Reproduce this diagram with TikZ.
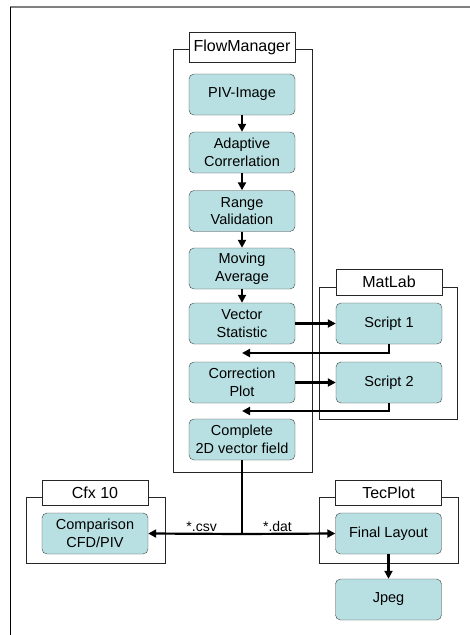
\documentclass[tikz,border=0pt]{standalone}
\usepackage{fontspec}
\setmainfont{Liberation Sans}
\usetikzlibrary{arrows.meta}
\definecolor{cellfill}{RGB}{184,224,226}
\begin{document}
\begin{tikzpicture}[x=1pt, y=-1pt,
    stepbox/.style={draw=black!75, fill=cellfill, rounded corners=5pt, minimum width=106pt, minimum height=41pt, inner sep=0pt, align=center, font=\fontsize{14.5}{17.5}\selectfont},
    groupframe/.style={draw=black!85, line width=0.8pt},
    grouptag/.style={draw=black!85, line width=0.8pt, fill=white, minimum width=106pt, inner sep=0pt, font=\fontsize{16}{19}\selectfont},
    flow/.style={line width=2.2pt, -{Triangle[length=8pt, width=8pt]}}]
    \useasboundingbox (0,0) rectangle (470,635);
    % page edge
    \draw[gray, line width=1.5pt] (10,7) -- (470,7);
    \draw[line width=1pt] (10,7) -- (10,635);

    % groups
    \draw[groupframe] (173,49) rectangle (312,472);
    \node[grouptag, minimum height=30pt] (flowmanager) at (242,47) {FlowManager};
    \draw[groupframe] (319,287) rectangle (457,419);
    \node[grouptag, minimum height=26pt] (matlab) at (389,282) {MatLab};
    \draw[groupframe] (26,497) rectangle (165,563);
    \node[grouptag, minimum height=25pt] (cfx) at (95,493) {Cfx 10};
    \draw[groupframe] (319,497) rectangle (458,563);
    \node[grouptag, minimum height=25pt] (tecplot) at (388.5,493) {TecPlot};

    % steps
    \node[stepbox] (piv) at (242,94.5) {PIV-Image};
    \node[stepbox] (adapt) at (242,152.5) {Adaptive\\Correrlation};
    \node[stepbox] (range) at (242,211) {Range\\Validation};
    \node[stepbox] (moving) at (242,268.5) {Moving\\Average};
    \node[stepbox] (vecstat) at (242,323.5) {Vector\\Statistic};
    \node[stepbox] (corr) at (242,382.5) {Correction\\Plot};
    \node[stepbox] (complete) at (242,439.5) {Complete\\2D vector field};
    \node[stepbox] (script1) at (389,323.5) {Script 1};
    \node[stepbox] (script2) at (389,382.5) {Script 2};
    \node[stepbox] (compare) at (95,533.5) {Comparison\\CFD/PIV};
    \node[stepbox] (final) at (388.5,533.5) {Final Layout};
    \node[stepbox] (jpeg) at (388.5,599.5) {Jpeg};

    \coordinate (back1) at (242,353);
    \coordinate (back2) at (242,411);
    \coordinate (split) at (242,534);

    % connectors
    \foreach \a/\b in {piv/adapt, adapt/range, range/moving, moving/vecstat, final/jpeg} {
        \draw[flow] (\a) -- (\b);
    }
    \draw[flow] (vecstat) -- (script1);
    \draw[flow] (corr) -- (script2);
    \draw[flow] (script1.south) |- (back1);
    \draw[flow] (script2.south) |- (back2);
    \draw[line width=2.2pt] (complete.south) -- (split);
    \draw[flow] (split) -- (compare.east) node[pos=0.43, above, inner sep=1pt, font=\fontsize{14}{16}\selectfont]{*.csv};
    \draw[flow] (split) -- (final.west) node[pos=0.38, above, inner sep=1pt, font=\fontsize{14}{16}\selectfont]{*.dat};
\end{tikzpicture}
\end{document}
